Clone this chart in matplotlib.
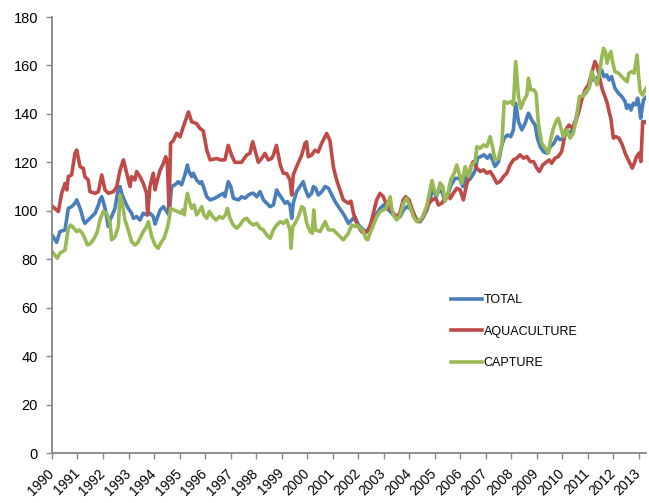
import matplotlib.pyplot as plt
import matplotlib.transforms as mtransforms
import numpy as np

# values: (years since 1990, index)
total_t = [0.03, 0.18, 0.31, 0.51, 0.64, 0.77, 0.90, 0.97, 1.10, 1.16, 1.23, 1.29, 1.42, 1.56, 1.69, 1.82,
           1.88, 1.95, 2.01, 2.08, 2.14, 2.21, 2.27, 2.34, 2.47, 2.60, 2.67, 2.73, 2.86, 2.99, 3.12, 3.19,
           3.32, 3.45, 3.58, 3.71, 3.84, 3.97, 4.04, 4.24, 4.37, 4.50, 4.59, 4.69, 4.82, 4.95, 5.08, 5.21,
           5.31, 5.37, 5.48, 5.54, 5.67, 5.80, 5.87, 5.96, 6.07, 6.20, 6.39, 6.59, 6.72, 6.78, 6.91, 7.01,
           7.11, 7.31, 7.44, 7.57, 7.70, 7.83, 7.90, 8.03, 8.16, 8.29, 8.42, 8.55, 8.68, 8.81, 8.92, 9.01,
           9.14, 9.23, 9.33, 9.40, 9.46, 9.59, 9.72, 9.85, 9.92, 10.05, 10.18, 10.25, 10.34, 10.44, 10.58, 10.71,
           10.84, 10.97, 11.10, 11.23, 11.36, 11.49, 11.62, 11.75, 11.88, 12.02, 12.21, 12.34, 12.47, 12.60, 12.74, 12.87,
           13.00, 13.13, 13.26, 13.39, 13.52, 13.65, 13.78, 13.91, 14.04, 14.17, 14.30, 14.44, 14.57, 14.70, 14.83, 14.94,
           15.06, 15.18, 15.30, 15.40, 15.52, 15.64, 15.81, 15.98, 16.11, 16.24, 16.37, 16.50, 16.60, 16.68, 16.81, 16.94,
           17.07, 17.18, 17.27, 17.37, 17.51, 17.64, 17.73, 17.86, 17.99, 18.09, 18.18, 18.29, 18.42, 18.55, 18.68, 18.81,
           18.94, 19.03, 19.14, 19.27, 19.40, 19.55, 19.68, 19.81, 19.92, 20.05, 20.14, 20.27, 20.40, 20.53, 20.66, 20.79,
           20.92, 21.06, 21.16, 21.29, 21.42, 21.55, 21.64, 21.75, 21.84, 21.94, 22.07, 22.21, 22.34, 22.47, 22.53, 22.62,
           22.70, 22.79, 22.89, 22.96, 23.03, 23.08, 23.19, 23.32]
total = [89.5, 87.0, 91.4, 92.1, 101.0, 101.7, 103.1, 104.5, 101.0, 99.0, 96.2, 94.8, 96.2, 97.6, 99.0, 102.4,
         104.5, 105.8, 103.8, 101.0, 97.6, 93.5, 96.2, 97.6, 101.0, 109.3, 110.0, 107.2, 103.8, 101.0, 99.0, 96.9,
         97.6, 96.2, 99.0, 98.3, 99.0, 97.6, 94.5, 100.3, 101.7, 99.7, 98.3, 110.0, 110.7, 112.0, 110.7, 114.8,
         118.9, 116.2, 114.1, 115.5, 112.7, 111.3, 112.0, 109.3, 105.8, 104.5, 105.2, 106.5, 107.2, 105.8, 112.0, 110.0,
         105.2, 104.5, 105.8, 105.2, 106.5, 107.2, 107.2, 105.8, 107.9, 104.5, 103.1, 101.7, 102.4, 108.6, 106.5, 105.2,
         103.1, 103.8, 102.4, 96.9, 103.1, 107.9, 110.0, 112.0, 109.3, 105.8, 107.2, 110.0, 109.3, 106.5, 107.9, 110.0,
         109.3, 106.5, 103.8, 101.7, 99.7, 97.6, 94.8, 96.2, 97.5, 94.1, 92.1, 91.4, 93.5, 96.2, 99.0, 101.0,
         102.4, 101.0, 99.7, 98.3, 96.9, 97.6, 100.3, 101.7, 101.0, 99.0, 96.2, 95.5, 97.6, 100.3, 105.0, 109.5,
         106.0, 108.5, 107.5, 104.0, 106.5, 110.5, 113.4, 113.4, 110.0, 114.1, 112.8, 114.8, 116.9, 121.7, 122.4, 123.1,
         121.7, 123.1, 121.0, 118.3, 120.3, 127.2, 130.0, 131.3, 130.6, 133.4, 144.4, 136.8, 133.4, 136.1, 140.3, 137.5,
         135.4, 130.0, 126.5, 124.4, 123.8, 126.5, 127.9, 130.6, 129.3, 130.0, 132.0, 132.0, 133.4, 137.5, 143.0, 147.2,
         148.5, 151.3, 154.7, 154.0, 155.4, 158.1, 155.4, 156.1, 154.0, 155.4, 150.6, 148.5, 147.2, 145.1, 142.3, 143.7,
         141.6, 144.4, 143.7, 146.5, 143.0, 138.2, 145.8, 147.2]

aqua_t = [0.03, 0.25, 0.38, 0.51, 0.58, 0.64, 0.77, 0.84, 0.90, 0.97, 1.10, 1.23, 1.29, 1.42, 1.49, 1.69,
          1.82, 1.95, 2.08, 2.21, 2.41, 2.54, 2.67, 2.80, 2.93, 3.06, 3.12, 3.25, 3.32, 3.45, 3.58, 3.71,
          3.75, 3.84, 3.97, 4.04, 4.13, 4.24, 4.37, 4.46, 4.52, 4.59, 4.65, 4.76, 4.89, 5.02, 5.15, 5.35,
          5.48, 5.67, 5.80, 5.93, 6.07, 6.20, 6.46, 6.59, 6.78, 6.91, 7.04, 7.17, 7.43, 7.63, 7.76, 7.87,
          7.96, 8.09, 8.22, 8.35, 8.48, 8.61, 8.68, 8.80, 8.95, 9.07, 9.20, 9.33, 9.40, 9.46, 9.59, 9.79,
          9.92, 9.98, 10.05, 10.18, 10.31, 10.44, 10.57, 10.77, 10.90, 11.03, 11.16, 11.29, 11.42, 11.62, 11.72, 11.82,
          11.92, 12.01, 12.14, 12.27, 12.41, 12.50, 12.60, 12.73, 12.86, 12.99, 13.12, 13.25, 13.38, 13.51, 13.64, 13.77,
          13.87, 14.00, 14.13, 14.26, 14.39, 14.52, 14.65, 14.78, 14.91, 15.05, 15.15, 15.28, 15.41, 15.54, 15.61, 15.74,
          15.87, 16.00, 16.13, 16.24, 16.33, 16.42, 16.52, 16.66, 16.79, 16.92, 17.05, 17.18, 17.31, 17.44, 17.57, 17.70,
          17.83, 17.96, 18.09, 18.22, 18.35, 18.49, 18.62, 18.75, 18.88, 19.01, 19.11, 19.24, 19.37, 19.50, 19.59, 19.72,
          19.85, 19.98, 20.05, 20.14, 20.27, 20.40, 20.53, 20.64, 20.77, 20.90, 21.03, 21.16, 21.29, 21.38, 21.49, 21.58,
          21.68, 21.77, 21.84, 21.91, 22.01, 22.11, 22.23, 22.36, 22.47, 22.56, 22.66, 22.75, 22.83, 22.92, 23.02, 23.09,
          23.16, 23.25, 23.33]
aqua = [101.7, 99.7, 107.2, 111.3, 108.6, 114.1, 114.8, 119.6, 123.7, 125.1, 118.2, 117.5, 114.1, 112.7, 107.9, 107.2,
        107.9, 114.8, 108.6, 107.2, 107.9, 110.0, 116.8, 121.0, 115.5, 110.0, 114.1, 112.7, 116.2, 114.1, 111.3, 107.2,
        98.3, 110.0, 115.5, 108.6, 112.7, 116.8, 119.6, 122.3, 120.3, 100.3, 127.8, 129.0, 132.0, 130.5, 134.7, 140.8,
        136.7, 136.0, 134.0, 133.0, 125.0, 121.0, 121.6, 121.0, 121.0, 127.0, 123.0, 120.0, 120.0, 123.0, 123.7, 128.5,
        125.0, 120.0, 121.6, 123.7, 121.0, 121.6, 123.0, 127.0, 118.9, 115.5, 115.4, 112.7, 106.5, 114.8, 118.2, 123.0,
        127.8, 128.5, 122.3, 123.0, 125.0, 124.3, 127.8, 131.9, 129.0, 118.2, 112.7, 108.6, 104.5, 103.1, 104.0, 99.0,
        95.5, 93.5, 91.4, 90.7, 92.1, 94.8, 99.0, 104.5, 107.2, 105.8, 102.4, 101.0, 99.0, 97.6, 99.0, 104.5,
        105.8, 104.5, 100.3, 96.9, 95.5, 96.9, 100.3, 103.1, 104.5, 105.2, 102.4, 103.1, 105.2, 107.2, 105.0, 107.3,
        109.3, 108.6, 104.5, 110.0, 113.4, 118.2, 120.3, 117.6, 116.2, 116.9, 115.5, 116.2, 114.1, 111.4, 112.1, 114.1,
        115.5, 118.9, 121.0, 121.7, 123.1, 121.7, 122.4, 120.3, 120.3, 117.6, 116.2, 118.9, 120.0, 121.0, 119.6, 121.7,
        122.4, 124.4, 127.9, 133.4, 135.4, 134.1, 136.8, 140.3, 145.8, 149.9, 152.0, 156.8, 161.6, 159.5, 154.0, 149.9,
        147.2, 144.4, 141.0, 138.2, 130.0, 130.6, 130.0, 127.2, 123.8, 121.7, 119.6, 117.6, 119.6, 122.4, 123.8, 120.3,
        136.8, 136.8, 136.1]

capture_t = [0.03, 0.21, 0.31, 0.51, 0.64, 0.73, 0.86, 0.97, 1.07, 1.19, 1.29, 1.39, 1.52, 1.65, 1.78, 1.88,
             2.01, 2.14, 2.27, 2.34, 2.47, 2.60, 2.67, 2.76, 2.86, 2.99, 3.12, 3.25, 3.35, 3.45, 3.58, 3.71,
             3.78, 3.91, 4.04, 4.17, 4.26, 4.39, 4.50, 4.59, 4.65, 4.78, 4.92, 5.05, 5.12, 5.19, 5.24, 5.31,
             5.39, 5.48, 5.57, 5.67, 5.80, 5.87, 5.96, 6.07, 6.17, 6.30, 6.43, 6.56, 6.69, 6.80, 6.88, 6.98,
             7.11, 7.24, 7.37, 7.50, 7.63, 7.76, 7.90, 8.03, 8.16, 8.29, 8.42, 8.55, 8.68, 8.81, 8.95, 9.07,
             9.20, 9.27, 9.33, 9.37, 9.44, 9.53, 9.66, 9.79, 9.88, 9.99, 10.12, 10.21, 10.26, 10.33, 10.51, 10.71,
             10.84, 11.03, 11.23, 11.42, 11.62, 11.75, 11.88, 11.95, 12.08, 12.21, 12.30, 12.38, 12.47, 12.60, 12.74, 12.87,
             13.00, 13.10, 13.19, 13.26, 13.32, 13.42, 13.52, 13.65, 13.78, 13.91, 14.04, 14.17, 14.30, 14.44, 14.57, 14.70,
             14.80, 14.90, 15.00, 15.10, 15.22, 15.32, 15.41, 15.52, 15.64, 15.77, 15.87, 16.07, 16.20, 16.33, 16.46, 16.59,
             16.66, 16.79, 16.92, 17.05, 17.18, 17.27, 17.37, 17.51, 17.64, 17.73, 17.86, 17.99, 18.09, 18.18, 18.29, 18.38,
             18.51, 18.62, 18.68, 18.77, 18.90, 18.98, 19.07, 19.20, 19.33, 19.46, 19.55, 19.66, 19.79, 19.85, 19.94, 20.05,
             20.18, 20.31, 20.44, 20.57, 20.68, 20.83, 20.92, 21.06, 21.16, 21.26, 21.37, 21.46, 21.55, 21.62, 21.70, 21.76,
             21.83, 21.91, 21.98, 22.07, 22.21, 22.34, 22.47, 22.55, 22.62, 22.73, 22.82, 22.89, 22.94, 22.99, 23.06, 23.15,
             23.25, 23.34]
capture = [82.8, 80.4, 82.5, 83.8, 92.8, 94.1, 92.8, 91.4, 92.1, 90.7, 88.6, 85.9, 86.6, 88.6, 91.4, 96.2,
           99.7, 99.0, 95.5, 88.0, 89.3, 93.5, 106.5, 103.1, 96.2, 92.1, 87.3, 85.9, 86.6, 88.6, 91.4, 93.5,
           95.5, 89.3, 85.9, 84.5, 86.6, 88.6, 92.1, 96.2, 101.0, 100.3, 99.7, 99.0, 100.3, 98.3, 103.1, 107.2,
           103.8, 101.0, 102.4, 98.3, 100.3, 101.7, 98.3, 96.9, 99.7, 97.6, 96.2, 97.6, 96.9, 98.3, 101.0, 96.9,
           94.1, 92.8, 94.1, 96.2, 96.9, 95.2, 94.1, 94.8, 92.8, 92.1, 90.0, 88.6, 92.1, 94.1, 95.5, 94.8,
           96.2, 94.1, 92.1, 84.5, 93.5, 94.8, 97.6, 101.7, 101.0, 94.8, 91.4, 90.7, 100.3, 92.1, 91.4, 95.5,
           92.1, 92.1, 90.0, 88.0, 90.7, 94.1, 93.5, 94.1, 92.8, 91.4, 88.6, 88.0, 90.7, 94.1, 97.6, 99.7,
           100.3, 101.0, 103.8, 105.8, 101.0, 97.6, 96.2, 98.3, 103.1, 105.2, 101.7, 97.6, 95.5, 96.2, 98.3, 102.4,
           107.5, 112.5, 108.0, 106.5, 111.5, 110.0, 104.0, 107.0, 113.0, 115.5, 118.9, 111.4, 118.2, 114.1, 118.9, 120.3,
           126.5, 125.8, 127.2, 126.5, 130.6, 126.5, 121.0, 121.7, 127.9, 145.1, 144.4, 145.1, 143.7, 161.6, 147.2, 142.3,
           145.8, 147.8, 154.7, 149.9, 149.9, 148.5, 136.1, 127.9, 126.0, 123.8, 129.3, 134.1, 137.5, 138.2, 134.7, 130.6,
           133.4, 130.0, 132.0, 138.9, 147.2, 147.2, 149.2, 150.6, 157.5, 154.7, 152.0, 156.8, 163.0, 167.1, 165.7, 160.9,
           163.7, 165.7, 161.6, 157.5, 156.8, 155.4, 154.0, 153.3, 156.8, 157.5, 156.8, 160.9, 164.3, 156.8, 149.2, 147.8,
           149.9, 151.3]

years = list(range(1990, 2014))

plt.rcParams['font.family'] = ['Liberation Sans', 'DejaVu Sans']

fig = plt.figure(figsize=(6.49, 5.03), dpi=100)
ax = fig.add_axes([0.0801, 0.0994, 0.9153, 0.8668])

ax.plot(1990 + np.array(total_t), total, color='#4A7EBB', lw=2.6, label='TOTAL', solid_joinstyle='round')
ax.plot(1990 + np.array(aqua_t), aqua, color='#BE4B48', lw=2.6, label='AQUACULTURE', solid_joinstyle='round')
ax.plot(1990 + np.array(capture_t), capture, color='#98B954', lw=2.6, label='CAPTURE', solid_joinstyle='round')

ax.set_xlim(1990, 2013.29)
ax.set_ylim(0, 180)
ax.set_yticks(range(0, 181, 20))
ax.set_xticks(years)
ax.set_xticklabels([str(y) for y in years], rotation=45, ha='right', va='center',
                   rotation_mode='anchor', fontsize=10)
shift = mtransforms.ScaledTranslation(3 / 100, 0, fig.dpi_scale_trans)
for lbl in ax.get_xticklabels():
    lbl.set_transform(lbl.get_transform() + shift)

for s in ['top', 'right']:
    ax.spines[s].set_visible(False)
for s in ['left', 'bottom']:
    ax.spines[s].set_color('#868686')
    ax.spines[s].set_linewidth(1.3)
ax.tick_params(axis='both', colors='#868686', labelcolor='black', width=1.0, length=4)
ax.tick_params(axis='y', pad=6, labelsize=10.5)
ax.tick_params(axis='x', pad=9)

ax.legend(loc='upper left', bbox_to_anchor=(0.652, 0.39), frameon=False, fontsize=9,
          handlelength=2.5, handletextpad=0.15, labelspacing=1.55)

plt.savefig('out.png', dpi=100)
